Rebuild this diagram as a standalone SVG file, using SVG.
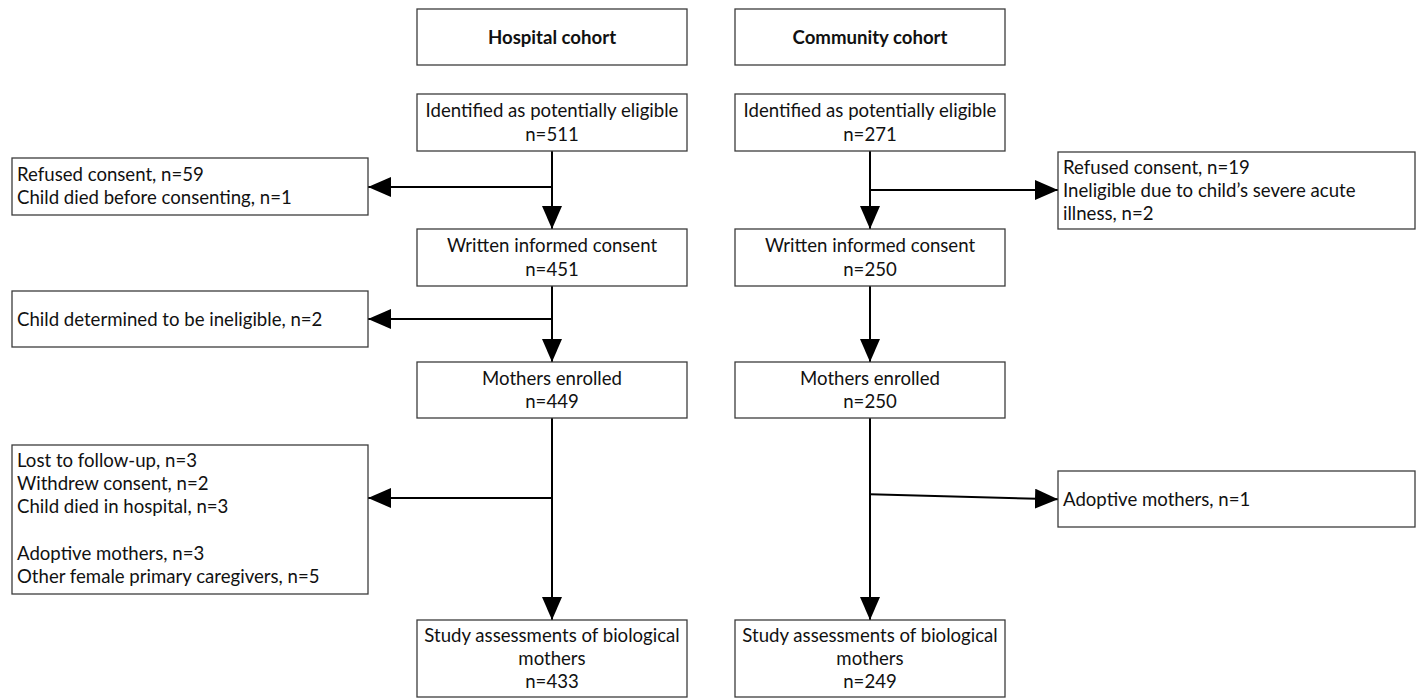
<svg xmlns="http://www.w3.org/2000/svg" width="1416" height="698" viewBox="0 0 1416 698">
<style>
  .box { fill: #ffffff; stroke: #3c3c3c; stroke-width: 1.3; }
  .t { font-family: Lato, "Open Sans", "Liberation Sans", sans-serif; font-size: 18.6px; fill: #111111; }
  .c { text-anchor: middle; }
  .b { font-weight: bold; }
  .ln { fill: none; stroke: #000000; stroke-width: 2; }
</style>
<defs>
  <marker id="ah" markerUnits="userSpaceOnUse" markerWidth="24" markerHeight="20" refX="23" refY="10" orient="auto">
    <path d="M0,0 L23,10 L0,20 z" fill="#000000"/>
  </marker>
</defs>
<rect width="1416" height="698" fill="#ffffff"/>

<g id="connectors">
  <line class="ln" x1="552" y1="151" x2="552" y2="229" marker-end="url(#ah)"/>
  <line class="ln" x1="552" y1="187" x2="368" y2="187" marker-end="url(#ah)"/>
  <line class="ln" x1="552" y1="286" x2="552" y2="362" marker-end="url(#ah)"/>
  <line class="ln" x1="552" y1="319" x2="368" y2="319" marker-end="url(#ah)"/>
  <line class="ln" x1="552" y1="418" x2="552" y2="620" marker-end="url(#ah)"/>
  <line class="ln" x1="552" y1="498" x2="368" y2="498" marker-end="url(#ah)"/>
  <line class="ln" x1="870" y1="151" x2="870" y2="229" marker-end="url(#ah)"/>
  <line class="ln" x1="870" y1="190" x2="1058" y2="190" marker-end="url(#ah)"/>
  <line class="ln" x1="870" y1="286" x2="870" y2="362" marker-end="url(#ah)"/>
  <line class="ln" x1="870" y1="418" x2="870" y2="620" marker-end="url(#ah)"/>
  <line class="ln" x1="870" y1="494.3" x2="1058" y2="499.3" marker-end="url(#ah)"/>
</g>

<g id="hospital-cohort">
  <rect class="box" x="417" y="9" width="270" height="56"/>
  <text class="t c b" x="552" y="43.5">Hospital cohort</text>
</g>
<g id="community-cohort">
  <rect class="box" x="735" y="9" width="270" height="56"/>
  <text class="t c b" x="870" y="43.5">Community cohort</text>
</g>

<g id="h-identified">
  <rect class="box" x="417" y="94" width="270" height="57"/>
  <text class="t c" x="552" y="117.2">Identified as potentially eligible</text>
  <text class="t c" x="552" y="140.5">n=511</text>
</g>
<g id="c-identified">
  <rect class="box" x="735" y="94" width="270" height="57"/>
  <text class="t c" x="870" y="117.2">Identified as potentially eligible</text>
  <text class="t c" x="870" y="140.5">n=271</text>
</g>

<g id="h-excl1">
  <rect class="box" x="12" y="158" width="356" height="57"/>
  <text class="t" x="17" y="181">Refused consent, n=59</text>
  <text class="t" x="17" y="204.3">Child died before consenting, n=1</text>
</g>
<g id="c-excl1">
  <rect class="box" x="1058" y="152" width="357" height="77"/>
  <text class="t" x="1063" y="173.6">Refused consent, n=19</text>
  <text class="t" x="1063" y="196.9">Ineligible due to child’s severe acute</text>
  <text class="t" x="1063" y="220.2">illness, n=2</text>
</g>

<g id="h-consent">
  <rect class="box" x="417" y="229" width="270" height="57"/>
  <text class="t c" x="552" y="252.2">Written informed consent</text>
  <text class="t c" x="552" y="275.5">n=451</text>
</g>
<g id="c-consent">
  <rect class="box" x="735" y="229" width="270" height="57"/>
  <text class="t c" x="870" y="252.2">Written informed consent</text>
  <text class="t c" x="870" y="275.5">n=250</text>
</g>

<g id="h-excl2">
  <rect class="box" x="12" y="291" width="356" height="56"/>
  <text class="t" x="17" y="325.5">Child determined to be ineligible, n=2</text>
</g>

<g id="h-enrolled">
  <rect class="box" x="417" y="362" width="270" height="56"/>
  <text class="t c" x="552" y="384.6">Mothers enrolled</text>
  <text class="t c" x="552" y="407.9">n=449</text>
</g>
<g id="c-enrolled">
  <rect class="box" x="735" y="362" width="270" height="56"/>
  <text class="t c" x="870" y="384.6">Mothers enrolled</text>
  <text class="t c" x="870" y="407.9">n=250</text>
</g>

<g id="h-excl3">
  <rect class="box" x="12" y="445" width="356" height="149"/>
  <text class="t" x="17" y="466.8">Lost to follow-up, n=3</text>
  <text class="t" x="17" y="490.1">Withdrew consent, n=2</text>
  <text class="t" x="17" y="513.4">Child died in hospital, n=3</text>
  <text class="t" x="17" y="560">Adoptive mothers, n=3</text>
  <text class="t" x="17" y="583.3">Other female primary caregivers, n=5</text>
</g>
<g id="c-excl3">
  <rect class="box" x="1058" y="471" width="357" height="56"/>
  <text class="t" x="1063" y="505.5">Adoptive mothers, n=1</text>
</g>

<g id="h-final">
  <rect class="box" x="417" y="620" width="270" height="77"/>
  <text class="t c" x="552" y="641.5">Study assessments of biological</text>
  <text class="t c" x="552" y="664.8">mothers</text>
  <text class="t c" x="552" y="688.1">n=433</text>
</g>
<g id="c-final">
  <rect class="box" x="735" y="620" width="270" height="77"/>
  <text class="t c" x="870" y="641.5">Study assessments of biological</text>
  <text class="t c" x="870" y="664.8">mothers</text>
  <text class="t c" x="870" y="688.1">n=249</text>
</g>
</svg>
